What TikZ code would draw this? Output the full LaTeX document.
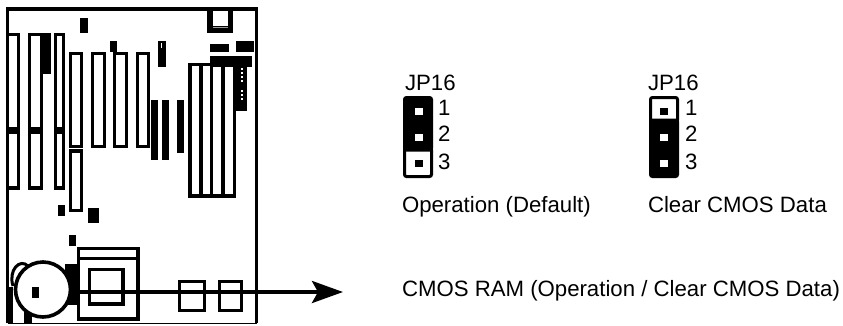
\documentclass[tikz,border=0pt]{standalone}
\usepackage{fontspec}
\setmainfont{Liberation Sans}
\usetikzlibrary{arrows.meta}
\tikzset{
  px/.style={x=1pt,y=-1pt},
  ol/.style={draw=black,line width=3.6pt,fill=none,line join=miter},
  blk/.style={fill=black,draw=none},
  lbl/.style={anchor=base west,inner sep=0pt,outer sep=0pt,font=\fontsize{22.2}{24}\selectfont,text=black},
  jumper/.style={draw=black,line width=3pt,rounded corners=2pt},
  pin/.style={draw=none,minimum size=7.5pt,inner sep=0pt,outer sep=0pt,shape=rectangle},
}
\begin{document}
\begin{tikzpicture}[px]
\useasboundingbox (0,0) rectangle (843,325);
% board outline
\draw[draw=black,line width=3.6pt] (7.5,290) -- (7.5,9) -- (256.5,9) -- (256.5,323);
\draw[draw=black,line width=1.5pt] (7.5,323.5) -- (257,323.5);
% top-left black parts
\fill[blk] (43,33) rectangle (51,74);
\fill[blk] (80,18) rectangle (88,33);
\fill[blk] (110,41) rectangle (117,52);
\fill[blk] (158,41) rectangle (166,67);
\fill[white] (161,43) rectangle (162,48);
% PCI/ISA slots
\draw[ol] (7.5,34.5) rectangle (18.5,128.5);
\draw[ol] (7.5,132) rectangle (18.5,188);
\draw[ol] (29.5,34.5) rectangle (41.5,128.5);
\draw[ol] (29.5,132) rectangle (41.5,188);
\draw[ol] (55.5,34.5) rectangle (63.5,128.5);
\draw[ol] (55.5,132) rectangle (63.5,188);
\draw[ol] (70.5,53.5) rectangle (81.5,146.5);
\draw[ol] (70.5,151) rectangle (81.5,210.5);
\draw[ol] (92.5,53.5) rectangle (104.5,146.5);
\draw[ol] (114.5,53.5) rectangle (126.5,146.5);
\draw[ol] (137.5,53.5) rectangle (148.5,146.5);
% black bars
\fill[blk] (151,100) rectangle (158,160);
\fill[blk] (162,100) rectangle (169,160);
\fill[blk] (177,100) rectangle (184,153);
% top socket
\fill[blk] (207,9) rectangle (233,33);
\fill[white] (213,10.8) rectangle (228,26);
\draw[draw=white!60!black,line width=.6pt] (213,27.5) -- (228,27.5);
% memory modules
\draw[ol] (190,64.5) rectangle (234.5,196);
\draw[ol] (201,64.5) -- (201,196);
\draw[ol] (211.5,64.5) -- (211.5,196);
\draw[ol] (223,64.5) -- (223,196);
% top-right black parts
\fill[blk] (210,44) rectangle (229,52);
\fill[blk] (236,41) rectangle (254,52);
\fill[blk] (210,56) rectangle (252,67);
\fill[blk] (236,67) rectangle (247,111);
\foreach \yy in {68,72,76,80,90,94,98}{\fill[white] (241,\yy) rectangle (243,\yy+1.5);}
% lower parts
\fill[blk] (58,205) rectangle (65,216);
\fill[blk] (88,208) rectangle (99,223);
\fill[blk] (69,235) rectangle (76,246);
\fill[blk] (65,264) rectangle (77,305);
\fill[blk] (6,287) rectangle (13,323);
\fill[blk] (24,310) rectangle (32,323);
% small arc behind battery
\draw[draw=black,line width=3pt] (13,286) .. controls (8,270) and (20,258) .. (28,266);
% CPU socket
\draw[ol] (78.5,248.5) rectangle (138,319);
\draw[ol] (78.5,258.5) -- (138,258.5);
\draw[ol] (89.5,269.5) rectangle (123,304);
% battery
\node[circle,draw=black,line width=3.6pt,fill=white,minimum size=55pt,inner sep=0pt,outer sep=0pt] (bat) at (43,289.5) {};
\fill[blk] (32,287) rectangle (39,298);
% small chips
\node[draw=black,line width=3.6pt,minimum width=25pt,minimum height=29pt,inner sep=0pt] (c1) at (192,296) {};
\node[draw=black,line width=3.6pt,minimum width=22pt,minimum height=29pt,inner sep=0pt] (c2) at (230.5,296) {};
% arrow
\coordinate (astart) at (71,292);
\coordinate (aend) at (343,292);
\draw[draw=black,line width=3.8pt,-{Stealth[length=31pt,width=22pt,inset=6pt]}] (astart) -- (aend);
% left jumper
\draw[jumper,fill=black] (404.5,97.5) -- (431.5,97.5) -- (431.5,150) -- (404.5,150) -- cycle;
\draw[jumper] (404.5,148) rectangle (431.5,176.5);
\node[pin,fill=white] (la) at (419,111.5) {};
\node[pin,fill=white] (lb) at (419,137.5) {};
\node[pin,fill=black] (lc) at (419,163.5) {};
% right jumper
\draw[jumper,fill=black] (650.5,120) -- (677.5,120) -- (677.5,176.5) -- (650.5,176.5) -- cycle;
\draw[jumper] (650.5,97.5) rectangle (677.5,122);
\node[pin,fill=black] (ra) at (664,111.5) {};
\node[pin,fill=white] (rb) at (664,137.5) {};
\node[pin,fill=white] (rc) at (664,163.5) {};
% labels
\node[lbl] (jl) at (405,90) {JP16};
\node[lbl] (l1) at (438,115.5) {1};
\node[lbl] (l2) at (438,141.5) {2};
\node[lbl] (l3) at (438,169) {3};
\node[lbl] (op) at (402,212) {Operation (Default)};
\node[lbl] (jr) at (648,90) {JP16};
\node[lbl] (r1) at (685,115.5) {1};
\node[lbl] (r2) at (685,141.5) {2};
\node[lbl] (r3) at (685,169) {3};
\node[lbl] (cl) at (648,212) {Clear CMOS Data};
\node[lbl] (cm) at (402,296) {CMOS RAM (Operation / Clear CMOS Data)};
\end{tikzpicture}
\end{document}
